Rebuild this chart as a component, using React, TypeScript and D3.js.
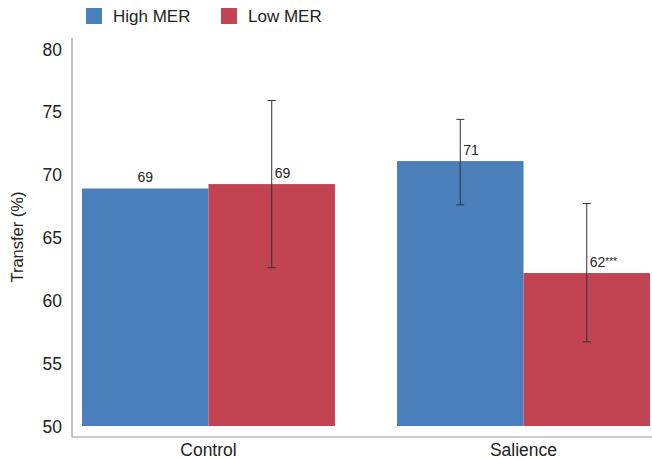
import React from "react";
import * as d3 from "d3";

const groups = ["Control", "Salience"];
const series = ["High MER", "Low MER"];
const colors = ["#4A7FBB", "#C24352"];
const means = [
  [68.9, 69.25],
  [71.08, 62.17],
];
const errLow: (number | null)[][] = [
  [null, 62.6],
  [67.6, 56.7],
];
const errHigh: (number | null)[][] = [
  [null, 75.9],
  [74.4, 67.7],
];
const labels = [
  ["69", "69"],
  ["71", "62"],
];
const stars = [
  ["", ""],
  ["", "***"],
];
const yTicks = [50, 55, 60, 65, 70, 75, 80];

export default function App() {
  const W = 652, H = 459;
  const axisX = 72, axisBottom = 437, axisTop = 38;
  const y = d3.scaleLinear().domain([50, 80]).range([426, 49]);
  const x0 = d3.scaleBand().domain(groups).range([82, 650]).paddingInner(0.197).paddingOuter(0);
  const x1 = d3.scaleBand().domain(series).range([0, x0.bandwidth()]);
  const font = "Liberation Sans, Arial, sans-serif";
  return (
    <svg width={W} height={H} style={{ position: "absolute", left: 0, top: 0 }} fontFamily={font}>
      <rect width={W} height={H} fill="#fff" />
      {/* legend */}
      {series.map((s, i) => (
        <g key={s} transform={`translate(${86 + i * 135},8)`}>
          <rect width={16} height={16} fill={colors[i]} />
          <text x={27} y={14} fontSize={17} fill="#222">{s}</text>
        </g>
      ))}
      {/* bars */}
      {groups.map((g, gi) =>
        series.map((s, si) => {
          const bx = (x0(g) as number) + (x1(s) as number);
          const bw = x1.bandwidth();
          const v = means[gi][si];
          const cx = bx + bw / 2;
          const lo = errLow[gi][si];
          const hi = errHigh[gi][si];
          return (
            <g key={g + s}>
              <rect x={bx} y={y(v)} width={bw} height={y(50) - y(v)} fill={colors[si]} />
              {lo !== null && hi !== null && (
                <g stroke="#333" strokeWidth={1}>
                  <line x1={cx} x2={cx} y1={y(hi)} y2={y(lo)} />
                  <line x1={cx - 4} x2={cx + 4} y1={y(hi)} y2={y(hi)} />
                  <line x1={cx - 4} x2={cx + 4} y1={y(lo)} y2={y(lo)} />
                </g>
              )}
              <text
                x={lo !== null ? cx + 3 : cx}
                y={y(v) - 6}
                textAnchor={lo !== null ? "start" : "middle"}
                fontSize={14}
                fill="#222"
              >
                {labels[gi][si]}
                {stars[gi][si] && (
                  <tspan fontSize={10} dy={-2}>{stars[gi][si]}</tspan>
                )}
              </text>
            </g>
          );
        })
      )}
      {/* axes */}
      <line x1={axisX} x2={axisX} y1={axisTop} y2={axisBottom} stroke="#999" strokeWidth={1.2} />
      <line x1={axisX} x2={652} y1={axisBottom} y2={axisBottom} stroke="#999" strokeWidth={1.2} />
      {yTicks.map((t) => (
        <text key={t} x={62} y={y(t) + 6.5} textAnchor="end" fontSize={17.5} fill="#222">{t}</text>
      ))}
      {groups.map((g) => (
        <text key={g} x={(x0(g) as number) + x0.bandwidth() / 2} y={456} textAnchor="middle" fontSize={17.5} fill="#222">{g}</text>
      ))}
      <text transform={`translate(23,${237}) rotate(-90)`} textAnchor="middle" fontSize={16.5} fill="#222">Transfer (%)</text>
    </svg>
  );
}
